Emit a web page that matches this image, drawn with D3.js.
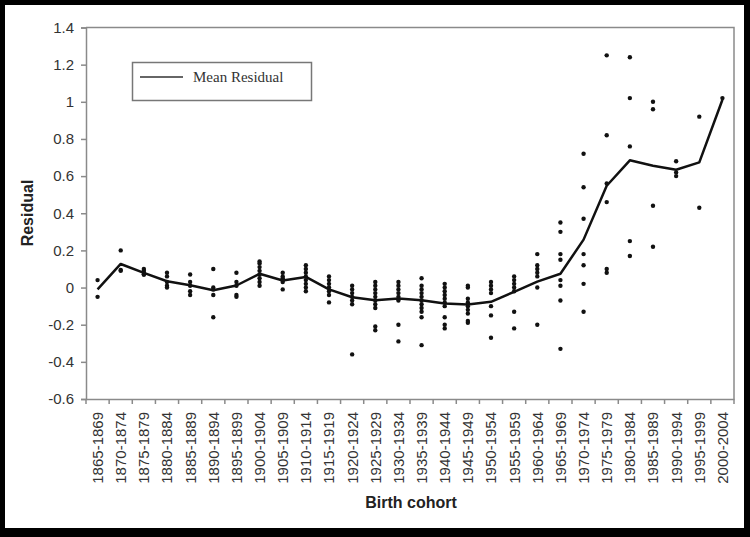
<!DOCTYPE html>
<html>
<head>
<meta charset="utf-8">
<script src="https://cdnjs.cloudflare.com/ajax/libs/d3/7.8.5/d3.min.js"></script>
<style>
  html, body { margin: 0; padding: 0; background: #000; }
  svg { display: block; }
</style>
</head>
<body>
<svg id="chart" width="750" height="537"></svg>
<script>
(function(){
  // birth cohorts on the x axis
  var cohorts = ['1865-1869','1870-1874','1875-1879','1880-1884','1885-1889','1890-1894','1895-1899',
    '1900-1904','1905-1909','1910-1914','1915-1919','1920-1924','1925-1929','1930-1934','1935-1939',
    '1940-1944','1945-1949','1950-1954','1955-1959','1960-1964','1965-1969','1970-1974','1975-1979',
    '1980-1984','1985-1989','1990-1994','1995-1999','2000-2004'];

  // mean residual per cohort (the line)
  var meanResidual = [-0.01, 0.127, 0.079, 0.034, 0.012, -0.015, 0.011, 0.074, 0.038, 0.057, -0.01,
    -0.052, -0.068, -0.059, -0.068, -0.086, -0.091, -0.077, -0.023, 0.032, 0.074, 0.258, 0.548,
    0.685, 0.656, 0.634, 0.674, 1.011];

  // individual residuals per cohort (the dots)
  var residuals = [
    [0.04, -0.05],
    [0.2, 0.095, 0.09],
    [0.1, 0.09, 0.08, 0.07, 0.07],
    [0.08, 0.06, 0.03, 0.01, 0.0],
    [0.07, 0.03, 0.01, -0.02, -0.04],
    [0.1, 0.0, -0.01, -0.04, -0.16],
    [0.08, 0.03, 0.01, -0.04, -0.05],
    [0.14, 0.13, 0.11, 0.09, 0.07, 0.05, 0.03, 0.01],
    [0.08, 0.06, 0.05, 0.04, 0.03, -0.01],
    [0.12, 0.1, 0.08, 0.06, 0.04, 0.02, 0.0, -0.02],
    [0.06, 0.04, 0.02, 0.0, -0.02, -0.04, -0.08],
    [0.01, -0.01, -0.03, -0.05, -0.07, -0.09, -0.36],
    [0.03, 0.01, -0.01, -0.03, -0.05, -0.07, -0.09, -0.11, -0.21, -0.23],
    [0.03, 0.01, -0.01, -0.03, -0.05, -0.07, -0.2, -0.29],
    [0.05, 0.01, -0.01, -0.03, -0.05, -0.07, -0.09, -0.11, -0.13, -0.16, -0.31],
    [0.02, 0.0, -0.02, -0.04, -0.06, -0.08, -0.1, -0.16, -0.2, -0.22],
    [0.01, 0.0, -0.06, -0.08, -0.1, -0.12, -0.14, -0.18, -0.19],
    [0.03, 0.01, -0.01, -0.03, -0.1, -0.15, -0.27],
    [0.06, 0.04, 0.02, 0.0, -0.02, -0.13, -0.22],
    [0.18, 0.12, 0.1, 0.08, 0.06, 0.0, -0.2],
    [0.35, 0.3, 0.18, 0.15, 0.04, 0.01, -0.07, -0.33],
    [0.72, 0.54, 0.37, 0.18, 0.12, 0.02, -0.13],
    [1.25, 0.82, 0.56, 0.46, 0.1, 0.08],
    [1.24, 1.02, 0.76, 0.25, 0.17],
    [1.0, 0.96, 0.44, 0.22],
    [0.68, 0.62, 0.6],
    [0.92, 0.43],
    [1.02]
  ];

  // y tick values
  var yTicks = [-0.6, -0.4, -0.2, 0, 0.2, 0.4, 0.6, 0.8, 1, 1.2, 1.4];

  var svg = d3.select('#chart'),
      left = 86, right = 734, top = 27.5, bottom = 399;

  // white page inside the black frame
  svg.append('rect')
    .attr('x', 5).attr('y', 5)
    .attr('width', 739).attr('height', 523)
    .attr('fill', '#fff');

  var x = d3.scaleBand()
      .domain(cohorts)
      .range([left, right])
      .padding(0);

  var y = d3.scaleLinear()
      .domain([-0.6, 1.4])
      .range([bottom, top]);

  var axisColor = '#8a8a8a',
      textColor = '#333';

  // plot frame (top + right)
  svg.append('path')
    .attr('d', 'M' + left + ',' + top + 'H' + right + 'V' + bottom)
    .attr('fill', 'none')
    .attr('stroke', axisColor)
    .attr('stroke-width', 1.5);

  // y axis
  var yAxis = svg.append('g')
      .attr('transform', 'translate(' + left + ',0)')
      .call(d3.axisLeft(y)
        .tickValues(yTicks)
        .tickSize(5)
        .tickPadding(7)
        .tickFormat(function(d) { return String(+d.toFixed(1)); }));
  yAxis.select('.domain').attr('stroke', axisColor).attr('stroke-width', 1.5);
  yAxis.selectAll('.tick line').attr('stroke', axisColor).attr('stroke-width', 1.5);
  yAxis.selectAll('.tick text')
    .attr('fill', textColor)
    .style('font-family', 'Liberation Sans, Arial, sans-serif')
    .style('font-size', '15px');

  // x axis: labels at band centres, ticks on band edges
  var xAxis = svg.append('g')
      .attr('transform', 'translate(0,' + bottom + ')')
      .call(d3.axisBottom(x).tickSize(0).tickPadding(0));
  xAxis.select('.domain').attr('stroke', axisColor).attr('stroke-width', 1.5);
  xAxis.selectAll('.tick text')
    .attr('fill', textColor)
    .attr('transform', 'rotate(-90)')
    .attr('text-anchor', 'end')
    .attr('x', -13)
    .attr('y', 0)
    .attr('dy', '0.36em')
    .style('font-family', 'Liberation Sans, Arial, sans-serif')
    .style('font-size', '15px');

  var edges = cohorts.map(function(d) { return x(d); }).concat([right]);
  xAxis.append('g')
    .selectAll('line')
    .data(edges)
    .enter().append('line')
      .attr('x1', function(d) { return d; })
      .attr('x2', function(d) { return d; })
      .attr('y1', 0)
      .attr('y2', 5)
      .attr('stroke', axisColor)
      .attr('stroke-width', 1.5);

  // axis titles
  svg.append('text')
    .attr('transform', 'translate(33,213) rotate(-90)')
    .attr('text-anchor', 'middle')
    .attr('fill', '#222')
    .style('font-family', 'Liberation Sans, Arial, sans-serif')
    .style('font-size', '16px')
    .style('font-weight', 'bold')
    .text('Residual');

  svg.append('text')
    .attr('x', 411)
    .attr('y', 508)
    .attr('text-anchor', 'middle')
    .attr('fill', '#222')
    .style('font-family', 'Liberation Sans, Arial, sans-serif')
    .style('font-size', '16px')
    .style('font-weight', 'bold')
    .text('Birth cohort');

  // dots
  var pts = [];
  residuals.forEach(function(list, i) {
    list.forEach(function(v) { pts.push({c: cohorts[i], v: v}); });
  });

  svg.append('g')
    .selectAll('circle')
    .data(pts)
    .enter().append('circle')
      .attr('cx', function(d) { return x(d.c) + x.bandwidth() / 2; })
      .attr('cy', function(d) { return y(d.v); })
      .attr('r', 2.2)
      .attr('fill', '#111');

  // mean line
  var line = d3.line()
      .x(function(d, i) { return x(cohorts[i]) + x.bandwidth() / 2; })
      .y(function(d) { return y(d); });

  svg.append('path')
    .datum(meanResidual)
    .attr('d', line)
    .attr('fill', 'none')
    .attr('stroke', '#111')
    .attr('stroke-width', 2.5)
    .attr('stroke-linejoin', 'round');

  // legend
  var legend = svg.append('g');
  legend.append('rect')
    .attr('x', 132.5).attr('y', 62.5)
    .attr('width', 179).attr('height', 38)
    .attr('fill', '#fff')
    .attr('stroke', '#777')
    .attr('stroke-width', 1.5);
  legend.append('line')
    .attr('x1', 140).attr('x2', 183)
    .attr('y1', 77).attr('y2', 77)
    .attr('stroke', '#333')
    .attr('stroke-width', 1.5);
  legend.append('text')
    .attr('x', 193).attr('y', 82)
    .attr('fill', '#333')
    .style('font-family', 'Liberation Serif, Times New Roman, serif')
    .style('font-size', '15px')
    .text('Mean Residual');
})();
</script>
</body>
</html>
